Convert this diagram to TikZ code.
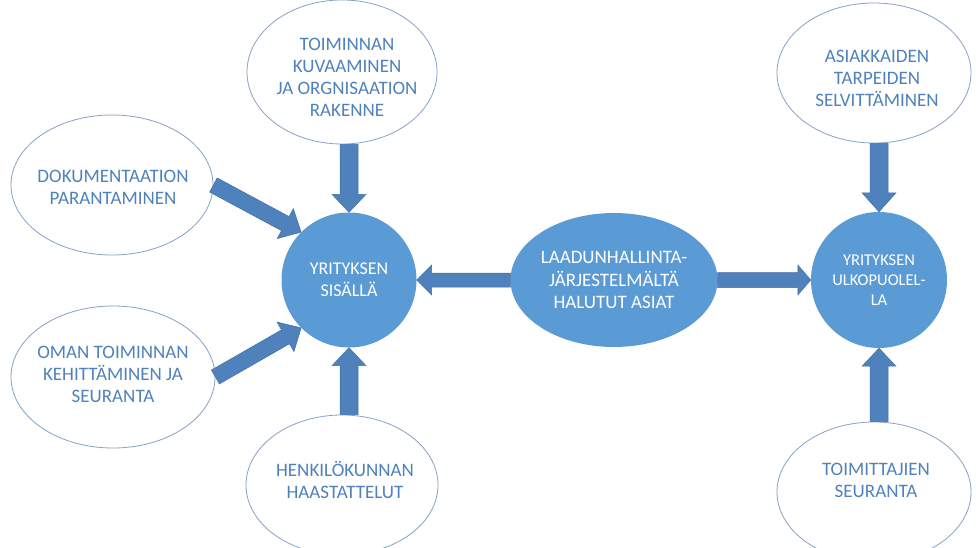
\documentclass[tikz,border=0pt]{standalone}
\usepackage{fontspec}
\setmainfont{Carlito}
\usetikzlibrary{calc,shapes.geometric}

\definecolor{accent}{RGB}{91,155,213}
\definecolor{arrowfill}{RGB}{79,129,189}
\definecolor{arrowedge}{RGB}{65,113,160}
\definecolor{bubbletext}{RGB}{79,129,189}
\definecolor{bubbleedge}{RGB}{135,162,195}

% block arrow: #1 tail, #2 tip, #3 half shaft width, #4 half head width, #5 head length
\newcommand\blockarrow[5]{%
  \coordinate (ba-base) at ($(#2)!#5!(#1)$);
  \filldraw[blockarr]
    ($(#1)!#3!90:(#2)$) -- ($(ba-base)!#3!90:(#2)$) -- ($(ba-base)!#4!90:(#2)$)
    -- (#2)
    -- ($(ba-base)!#4!-90:(#2)$) -- ($(ba-base)!#3!-90:(#2)$) -- ($(#1)!#3!-90:(#2)$)
    -- cycle;
}

\begin{document}
\begin{tikzpicture}[x=1pt,y=-1pt,
  bubble/.style={ellipse, draw=bubbleedge, line width=0.8pt, fill=white, inner sep=0pt},
  bubtext/.style={text=bubbletext, align=center, inner sep=0pt,
    font=\fontsize{19}{22}\selectfont},
  hub/.style={circle, fill=accent, inner sep=0pt, text=white, align=center},
  core/.style={ellipse, fill=accent, inner sep=0pt, text=white, align=center,
    font=\fontsize{19}{22.5}\selectfont},
  blockarr/.style={fill=arrowfill, draw=arrowedge, line width=0.5pt, line join=miter}]

\fill[white] (0,0) rectangle (976,548);
\useasboundingbox (0,0) rectangle (976,548);
\clip (0,0) rectangle (976,548);

% outer bubbles
\node[bubble, minimum width=190pt, minimum height=144pt] (top) at (342,72) {};
\node[bubble, minimum width=202pt, minimum height=140pt] (dok) at (112,185) {};
\node[bubble, minimum width=204pt, minimum height=142pt] (oman) at (113,377) {};
\node[bubble, minimum width=192pt, minimum height=140pt] (henk) at (342,485) {};
\node[bubble, minimum width=194pt, minimum height=140pt] (asi) at (874,73) {};
\node[bubble, minimum width=194pt, minimum height=140pt] (toim) at (874,492) {};

\node[bubtext] (top-t) at (347,77) {TOIMINNAN\\KUVAAMINEN\\JA ORGNISAATION\\RAKENNE};
\node[bubtext] (dok-t) at (113,187) {DOKUMENTAATION\\PARANTAMINEN};
\node[bubtext] (oman-t) at (113,374) {OMAN TOIMINNAN\\KEHITTÄMINEN JA\\SEURANTA};
\node[bubtext] (henk-t) at (345,480) {HENKILÖKUNNAN\\HAASTATTELUT};
\node[bubtext] (asi-t) at (877,78) {ASIAKKAIDEN\\TARPEIDEN\\SELVITTÄMINEN};
\node[bubtext] (toim-t) at (876,480) {TOIMITTAJIEN\\SEURANTA};

% central shapes
\node[hub, minimum size=135pt, font=\fontsize{18}{22}\selectfont] (sis) at (349,280) {YRITYKSEN\\SISÄLLÄ};
\node[hub, minimum size=136pt, font=\fontsize{16.5}{20}\selectfont] (ulk) at (879,280) {YRITYKSEN\\ULKOPUOLEL-\\LA};
\node[core, minimum width=202pt, minimum height=134pt] (mid) at (614,280) {LAADUNHALLINTA-\\JÄRJESTELMÄLTÄ\\HALUTUT ASIAT};

% connectors
\coordinate (top-a) at (sis.north |- top.south);
\coordinate (henk-a) at (sis.south |- henk.north);
\coordinate (asi-a) at (ulk.north |- asi.south);
\coordinate (toim-a) at (ulk.south |- toim.north);

\blockarrow{top-a}{sis.north}{9pt}{17pt}{18pt}
\blockarrow{henk-a}{sis.south}{9pt}{17pt}{18pt}
\blockarrow{dok.east}{sis.135}{8pt}{17pt}{18pt}
\blockarrow{oman.east}{sis.225}{8pt}{17pt}{18pt}
\blockarrow{mid.west}{sis.east}{7pt}{15pt}{15pt}
\blockarrow{mid.east}{ulk.west}{7.5pt}{15pt}{13pt}
\blockarrow{asi-a}{ulk.north}{9pt}{17pt}{19pt}
\blockarrow{toim-a}{ulk.south}{9pt}{17pt}{18pt}
\end{tikzpicture}
\end{document}
